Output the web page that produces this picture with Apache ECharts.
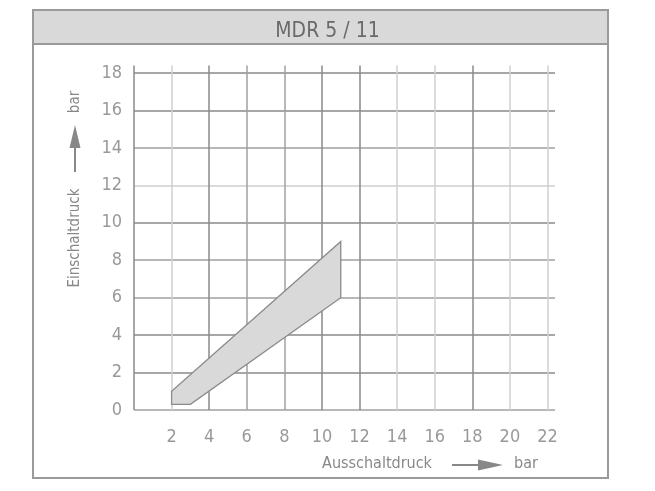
<!DOCTYPE html>
<html>
<head>
<meta charset="utf-8">
<script src="https://cdn.jsdelivr.net/npm/echarts@6/dist/echarts.min.js"></script>
<style>
html,body{margin:0;padding:0;background:#fff;}
#chart{width:655px;height:491px;}
</style>
</head>
<body>
<div id="chart"></div>
<script>
// Data
const titleText = 'MDR 5 / 11';
const xName = 'Ausschaltdruck';
const yName = 'Einschaltdruck';
const unit = 'bar';
const regionX = [2, 2, 11, 11, 3];
const regionY = [0.3, 1, 9, 6, 0.3];
const xTicks = [0, 2, 4, 6, 8, 10, 12, 14, 16, 18, 20, 22];
const yTicks = [0, 2, 4, 6, 8, 10, 12, 14, 16, 18];

const D = '#8a8a8a', M = '#a0a0a0', L = '#cfcfcf', T = 'rgba(0,0,0,0)';
const xLineColors = [D, L, D, M, M, D, D, L, L, D, L, L, T];
const yLineColors = [M, D, D, M, M, D, L, M, D, D, T];

const font = 'DejaVu Sans Condensed';
const chart = echarts.init(document.getElementById('chart'));
const points = regionX.map((x, i) => [x, regionY[i]]);

chart.setOption({
  animation: false,
  backgroundColor: '#fff',
  title: {
    text: titleText,
    left: 'center',
    top: 16,
    textStyle: {fontFamily: font, fontSize: 21, fontWeight: 'normal', color: '#6a6a6a'}
  },
  grid: {left: 134, right: 100, top: 65.5, bottom: 81},
  xAxis: {
    type: 'value',
    min: xTicks[0],
    max: 22.4,
    interval: 2,
    axisLine: {show: false},
    axisTick: {show: false},
    axisLabel: {
      showMinLabel: false, showMaxLabel: false, margin: 18,
      fontFamily: font, fontSize: 18, color: '#999',
      formatter: v => (xTicks.indexOf(v) >= 0 ? String(v) : '')
    },
    splitLine: {show: true, showMaxLine: false, lineStyle: {color: xLineColors, width: 1.5}}
  },
  yAxis: {
    type: 'value',
    min: yTicks[0],
    max: 18.4,
    interval: 2,
    axisLine: {show: false},
    axisTick: {show: false},
    axisLabel: {
      showMaxLabel: false, margin: 12,
      fontFamily: font, fontSize: 18, color: '#999',
      formatter: v => (yTicks.indexOf(v) >= 0 ? String(v) : '')
    },
    splitLine: {show: true, showMaxLine: false, lineStyle: {color: yLineColors, width: 1.5}}
  },
  graphic: [
    {type: 'rect', z: -10, shape: {x: 33, y: 10, width: 575, height: 468},
     style: {fill: '#fff', stroke: '#9a9a9a', lineWidth: 2}},
    {type: 'rect', z: -9, shape: {x: 33, y: 10, width: 575, height: 34},
     style: {fill: '#d9d9d9', stroke: '#9a9a9a', lineWidth: 2}},
    // y axis name
    {type: 'text', x: 75, y: 238, rotation: Math.PI / 2,
     style: {text: yName, fontFamily: font, fontSize: 15, fill: '#888', align: 'center', verticalAlign: 'middle'}},
    {type: 'line', shape: {x1: 75, y1: 172, x2: 75, y2: 146}, style: {stroke: '#888', lineWidth: 2}},
    {type: 'polygon', shape: {points: [[69.5, 148], [80.5, 148], [75, 125]]}, style: {fill: '#888'}},
    {type: 'text', x: 75, y: 102, rotation: Math.PI / 2,
     style: {text: unit, fontFamily: font, fontSize: 15, fill: '#888', align: 'center', verticalAlign: 'middle'}},
    // x axis name
    {type: 'text', x: 377, y: 464,
     style: {text: xName, fontFamily: font, fontSize: 16, fill: '#888', align: 'center', verticalAlign: 'middle'}},
    {type: 'line', shape: {x1: 452, y1: 465, x2: 480, y2: 465}, style: {stroke: '#888', lineWidth: 2}},
    {type: 'polygon', shape: {points: [[478, 459.5], [478, 470.5], [503, 465]]}, style: {fill: '#888'}},
    {type: 'text', x: 526, y: 464,
     style: {text: unit, fontFamily: font, fontSize: 16, fill: '#888', align: 'center', verticalAlign: 'middle'}}
  ],
  series: [{
    type: 'custom',
    data: points,
    encode: {x: 0, y: 1},
    renderItem: function (params, api) {
      if (params.dataIndex !== 0) return null;
      const pts = points.map(p => api.coord(p));
      return {
        type: 'polygon',
        shape: {points: pts},
        style: {fill: '#d9d9d9', stroke: '#8a8a8a', lineWidth: 1.3}
      };
    }
  }]
});
</script>
</body>
</html>
